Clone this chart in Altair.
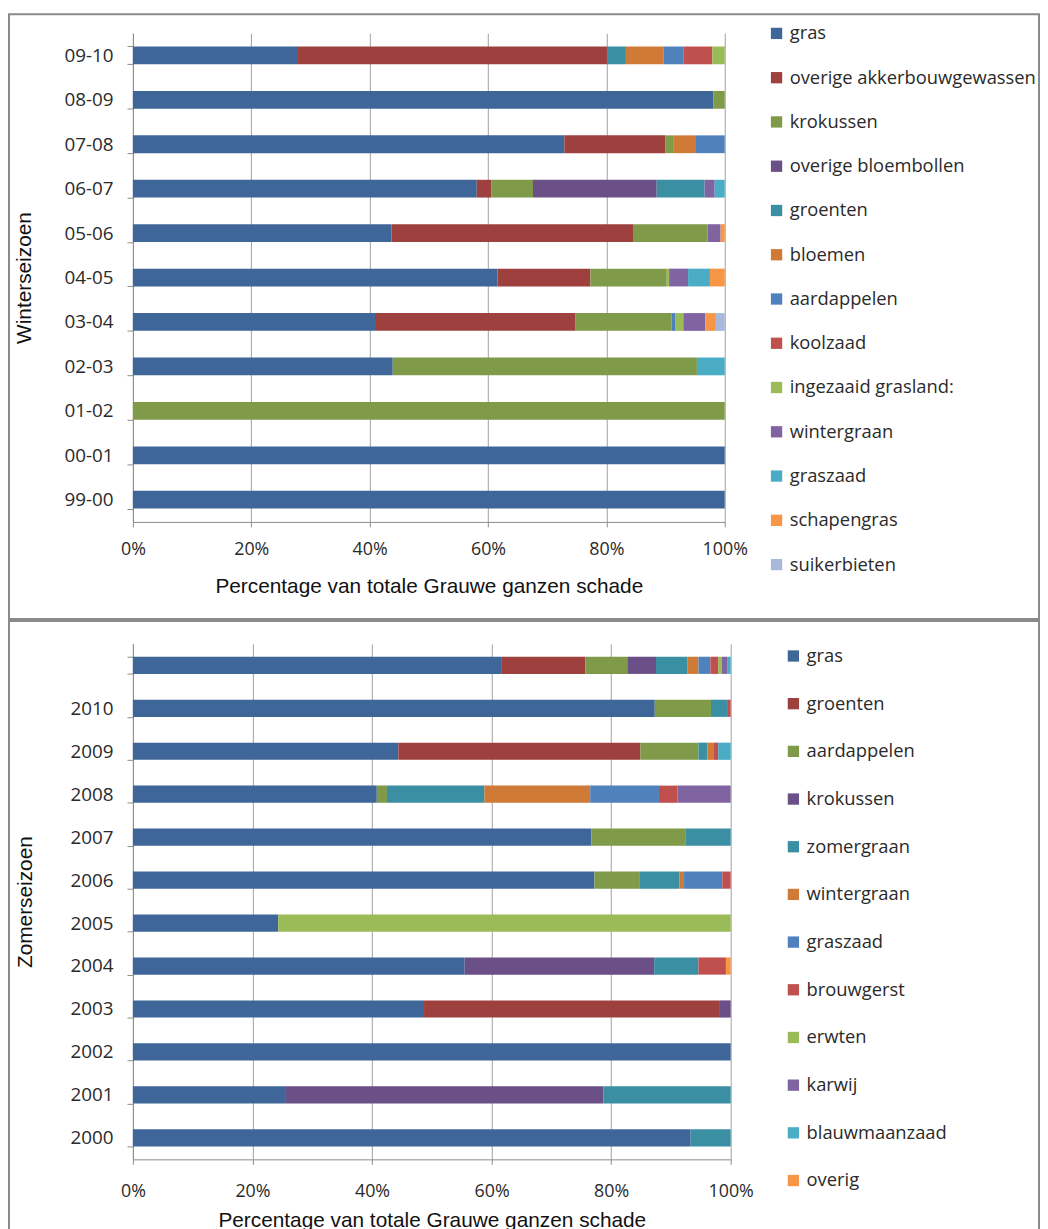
import altair as alt
import pandas as pd

# ---------------- data: winter seasons (top chart) ----------------
winter_seasons = ["09-10", "08-09", "07-08", "06-07", "05-06", "04-05",
                  "03-04", "02-03", "01-02", "00-01", "99-00"]
winter_crops = ["gras", "overige akkerbouwgewassen", "krokussen", "overige bloembollen",
                "groenten", "bloemen", "aardappelen", "koolzaad", "ingezaaid grasland:",
                "wintergraan", "graszaad", "schapengras", "suikerbieten"]
w_gras = [27.9, 98.1, 72.9, 58.1, 43.7, 61.6, 40.9, 43.9, 0, 100, 100]
w_overige_akker = [52.2, 0, 17.1, 2.5, 40.8, 15.7, 33.9, 0, 0, 0, 0]
w_krokussen = [0, 1.9, 1.4, 7.0, 12.6, 12.9, 16.2, 51.4, 100, 0, 0]
w_overige_bloembollen = [0, 0, 0, 20.9, 0, 0, 0, 0, 0, 0, 0]
w_groenten = [3.2, 0, 0, 8.1, 0, 0, 0, 0, 0, 0, 0]
w_bloemen = [6.4, 0, 3.6, 0, 0, 0, 0, 0, 0, 0, 0]
w_aardappelen = [3.3, 0, 5.0, 0, 0, 0, 0.7, 0, 0, 0, 0]
w_koolzaad = [4.9, 0, 0, 0, 0, 0, 0, 0, 0, 0, 0]
w_ingezaaid = [2.1, 0, 0, 0, 0, 0.4, 1.3, 0, 0, 0, 0]
w_wintergraan = [0, 0, 0, 1.7, 2.2, 3.2, 3.7, 0, 0, 0, 0]
w_graszaad = [0, 0, 0, 1.7, 0, 3.7, 0, 4.7, 0, 0, 0]
w_schapengras = [0, 0, 0, 0, 0.7, 2.5, 1.8, 0, 0, 0, 0]
w_suikerbieten = [0, 0, 0, 0, 0, 0, 1.5, 0, 0, 0, 0]
winter_values = [w_gras, w_overige_akker, w_krokussen, w_overige_bloembollen, w_groenten,
                 w_bloemen, w_aardappelen, w_koolzaad, w_ingezaaid, w_wintergraan,
                 w_graszaad, w_schapengras, w_suikerbieten]

# ---------------- data: summer seasons (bottom chart) ----------------
summer_seasons = ["2011", "2010", "2009", "2008", "2007", "2006", "2005",
                  "2004", "2003", "2002", "2001", "2000"]
summer_labels_hidden = ["2011"]
summer_crops = ["gras", "groenten", "aardappelen", "krokussen", "zomergraan", "wintergraan",
                "graszaad", "brouwgerst", "erwten", "karwij", "blauwmaanzaad", "overig"]
s_gras = [61.6, 87.3, 44.4, 40.8, 76.7, 77.2, 24.3, 55.5, 48.7, 100, 25.6, 93.3]
s_groenten = [14.1, 0, 40.5, 0, 0, 0, 0, 0, 49.5, 0, 0, 0]
s_aardappelen = [7.0, 9.4, 9.7, 1.7, 15.7, 7.5, 0, 0, 0, 0, 0, 0]
s_krokussen = [4.8, 0, 0, 0, 0, 0, 0, 31.7, 1.8, 0, 53.1, 0]
s_zomergraan = [5.3, 2.7, 1.5, 16.3, 7.6, 6.7, 0, 7.4, 0, 0, 21.3, 6.7]
s_wintergraan = [1.8, 0, 1.1, 17.7, 0, 0.8, 0, 0, 0, 0, 0, 0]
s_graszaad = [2.0, 0, 0, 11.5, 0, 6.4, 0, 0, 0, 0, 0, 0]
s_brouwgerst = [1.3, 0.6, 0.7, 3.1, 0, 1.4, 0, 4.6, 0, 0, 0, 0]
s_erwten = [0.6, 0, 0, 0, 0, 0, 75.7, 0, 0, 0, 0, 0]
s_karwij = [0.9, 0, 0, 8.9, 0, 0, 0, 0, 0, 0, 0, 0]
s_blauwmaanzaad = [0.6, 0, 2.1, 0, 0, 0, 0, 0, 0, 0, 0, 0]
s_overig = [0, 0, 0, 0, 0, 0, 0, 0.8, 0, 0, 0, 0]
summer_values = [s_gras, s_groenten, s_aardappelen, s_krokussen, s_zomergraan, s_wintergraan,
                 s_graszaad, s_brouwgerst, s_erwten, s_karwij, s_blauwmaanzaad, s_overig]

palette = ["#3F6699", "#9E413E", "#7F9A48", "#6A5086", "#3A8FA3", "#CF7B37",
           "#4F81BD", "#C0504D", "#9BBB59", "#8064A2", "#4BACC6", "#F79646", "#A8B9DC"]

x_ticks = [0, 0.2, 0.4, 0.6, 0.8, 1.0]


def long_df(seasons, crops, values):
    rows = []
    for ci, (crop, vals) in enumerate(zip(crops, values)):
        for s, v in zip(seasons, vals):
            if v > 0:
                rows.append({"seizoen": s, "gewas": crop, "idx": ci, "pct": v})
    return pd.DataFrame(rows)


LABEL_FONT = "Open Sans"
TITLE_FONT = "Liberation Sans"
GRID = "#A0A0A0"
AXIS = "#8C8C8C"
TXT = "#2A2A2A"


def panel(seasons, crops, values, colors, ytitle, w, h, legend_x, legend_y, row_pad,
          frame, hide_labels=None, xlabel_pad=12, xtitle_pad=10, ytitle_pad=22):
    df = long_df(seasons, crops, values)
    label_expr = "datum.value"
    if hide_labels:
        cond = " || ".join([f"datum.value == '{v}'" for v in hide_labels])
        label_expr = f"({cond}) ? '' : datum.value"
    bars = alt.Chart(df).mark_bar().encode(
        y=alt.Y("seizoen:N", sort=seasons,
                scale=alt.Scale(paddingInner=0.6, paddingOuter=0.3),
                axis=alt.Axis(title=ytitle, labelExpr=label_expr, tickBand="extent",
                              tickSize=6, tickColor=AXIS, domainColor=AXIS,
                              labelFont=LABEL_FONT, labelFontSize=19, labelColor=TXT,
                              labelPadding=14, titleFont=TITLE_FONT, titleFontSize=21,
                              titleFontWeight="normal", titleColor="#111",
                              titlePadding=ytitle_pad, grid=False)),
        x=alt.X("pct:Q", stack="normalize",
                scale=alt.Scale(domain=[0, 1], nice=False),
                axis=alt.Axis(title="Percentage van totale Grauwe ganzen schade",
                              values=x_ticks, format=".0%", grid=True, gridColor=GRID,
                              gridWidth=1, tickSize=5, tickColor=AXIS, domainColor=AXIS,
                              labelFlush=False,
                              labelFont=LABEL_FONT, labelFontSize=18, labelColor=TXT,
                              labelPadding=xlabel_pad, titleFont=TITLE_FONT,
                              titleFontSize=21, titleFontWeight="normal",
                              titleColor="#111", titlePadding=xtitle_pad)),
        color=alt.Color("gewas:N", scale=alt.Scale(domain=crops, range=colors),
                        legend=alt.Legend(title=None, orient="none", legendX=legend_x,
                                          legendY=legend_y, symbolType="square",
                                          symbolSize=130, symbolStrokeWidth=0,
                                          labelFont=LABEL_FONT, labelFontSize=18.5,
                                          labelColor=TXT, rowPadding=row_pad,
                                          labelOffset=4, padding=0, labelLimit=400)),
        order=alt.Order("idx:Q", sort="ascending"),
    )
    fx, fx2, fy, fy2 = frame
    box = alt.Chart(alt.Data(values=[{}])).mark_rect(
        fill="white", fillOpacity=0, stroke="#8A8A8A", strokeWidth=2
    ).encode(x=alt.value(fx), x2=alt.value(fx2), y=alt.value(fy), y2=alt.value(fy2))
    return alt.layer(box, bars).properties(width=w, height=h)


top = panel(winter_seasons, winter_crops, winter_values, palette,
            "Winterseizoen", 597, 493, 640, -9, 25.65, (-125, 914, -19, 591),
            xlabel_pad=14, xtitle_pad=17, ytitle_pad=30)
bottom = panel(summer_seasons, summer_crops, summer_values, palette[:12],
               "Zomerseizoen", 603, 520, 657, 3, 29.1, (-125, 914, -23, 600),
               hide_labels=summer_labels_hidden, xlabel_pad=18, xtitle_pad=10,
               ytitle_pad=35)

chart = alt.vconcat(top, bottom, spacing=0).resolve_scale(
    color="independent", x="independent", y="independent"
).resolve_legend(color="independent").properties(
    padding=0, background="white"
).configure_view(stroke=None)

chart.save("out.html", embed_options={"renderer": "svg", "actions": False})
